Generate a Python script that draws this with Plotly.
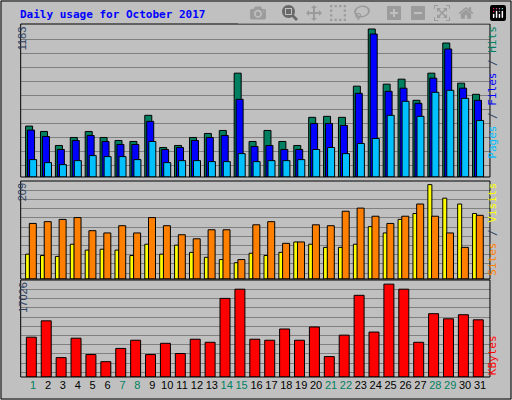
import plotly.graph_objects as go

days = list(range(1, 32))
weekend = [1, 7, 8, 14, 15, 21, 22, 28, 29]
hits = [407,364,252,316,364,316,292,284,493,236,252,316,348,372,830,284,372,284,252,477,485,477,726,1183,742,782,613,830,1071,750,661]
files = [375,324,220,292,332,284,260,260,445,220,236,292,316,332,621,244,252,220,220,428,428,412,669,1143,685,710,589,790,1023,710,613]
pages = [139,115,99,131,171,163,163,139,284,115,131,131,123,123,187,123,131,131,139,220,236,187,268,308,493,605,485,677,693,629,452]
visits = [55,52,50,77,64,66,64,52,77,55,75,59,48,43,36,57,52,59,82,77,70,70,77,116,102,132,145,209,179,166,145]
sites = [123,127,132,136,107,102,118,102,136,118,98,89,109,109,43,120,127,79,82,120,118,150,157,139,123,139,166,139,102,70,141]
kbytes = [7300,10296,3557,7114,4118,2808,5242,6739,4118,6178,4306,6926,6365,14415,16099,6926,6739,8798,6739,9173,3744,7675,14976,8237,17026,16099,6365,11606,10670,11419,10483]

line = dict(color="black", width=1)
fig = go.Figure()
def bar(y, color, off, w, ax):
    fig.add_trace(go.Bar(x=days, y=y, marker=dict(color=color, line=line), offset=off, width=w,
                         xaxis="x" if ax == "y" else "x" + ax[1:], yaxis=ax, showlegend=False))
bar(hits, "#008060", -0.5, 0.47, "y")
bar(files, "#0000ff", -0.37, 0.47, "y")
bar(pages, "#00c0ff", -0.23, 0.47, "y")
bar(visits, "#ffff00", -0.5, 0.27, "y2")
bar(sites, "#ff8000", -0.25, 0.47, "y2")
bar(kbytes, "#ff0000", -0.45, 0.67, "y3")

xr = [0.17, 31.67]
xd = [0.0404, 0.957]
ticktext = [f"<span style='color:{'#008060' if d in weekend else 'black'}'>{d}</span>" for d in days]
common_x = dict(range=xr, domain=xd, showgrid=False, zeroline=False, fixedrange=True)
gridc = "#808080"
fig.update_layout(
    width=512, height=400, margin=dict(l=0, r=0, t=0, b=0), autosize=False,
    paper_bgcolor="#c0c0c0", plot_bgcolor="#c0c0c0", barmode="overlay",
    xaxis=dict(**common_x, anchor="y", showticklabels=False),
    xaxis2=dict(**common_x, anchor="y2", showticklabels=False),
    xaxis3=dict(**common_x, anchor="y3", tickmode="array", tickvals=days, ticktext=ticktext,
                ticks="", tickfont=dict(family="Liberation Sans", size=11)),
    yaxis=dict(domain=[0.5575, 0.94], range=[0, 1223], tick0=91, dtick=112.4, showticklabels=False,
               gridcolor=gridc, zeroline=False),
    yaxis2=dict(domain=[0.3025, 0.5475], range=[0, 217], tick0=12.9, dtick=20.4, showticklabels=False,
                gridcolor=gridc, zeroline=False),
    yaxis3=dict(domain=[0.0575, 0.30], range=[0, 17784], tick0=874, dtick=1685, showticklabels=False,
                gridcolor=gridc, zeroline=False),
    font=dict(family="DejaVu Sans Mono"),
)
shapes = [dict(type="rect", xref="paper", yref="paper", x0=0.002, x1=0.998, y0=0.0025, y1=0.9975,
               line=dict(color="black", width=1))]
for d in ["y", "y2", "y3"]:
    dom = fig.layout[d.replace("y", "yaxis")].domain
    shapes.append(dict(type="rect", xref="paper", yref="paper", x0=xd[0], x1=xd[1], y0=dom[0], y1=dom[1],
                       line=dict(color="black", width=1)))
fig.update_layout(shapes=shapes)

ann = [
    dict(x=0.036, y=0.985, text="<b>Daily usage for October 2017</b>", showarrow=False, xanchor="left",
         yanchor="top", font=dict(color="#0000ff", size=11, family="DejaVu Sans Mono")),
    dict(x=0.028, y=0.94, text="1183", textangle=-90, showarrow=False, yanchor="top",
         font=dict(size=11, family="Liberation Sans")),
    dict(x=0.028, y=0.5475, text="209", textangle=-90, showarrow=False, yanchor="top",
         font=dict(size=11, family="Liberation Sans")),
    dict(x=0.028, y=0.30, text="17026", textangle=-90, showarrow=False, yanchor="top",
         font=dict(size=11, family="Liberation Sans")),
    dict(x=0.978, y=0.94, textangle=-90, showarrow=False, yanchor="top",
         text="<span style='color:#00c0ff'>Pages</span> / <span style='color:#0000ff'>Files</span> / <span style='color:#008060'>Hits</span>",
         font=dict(size=11, family="DejaVu Sans Mono")),
    dict(x=0.978, y=0.5475, textangle=-90, showarrow=False, yanchor="top",
         text="<span style='color:#ff8000'>Sites</span> / <span style='color:#ffff00'>Visits</span>",
         font=dict(size=11, family="DejaVu Sans Mono")),
    dict(x=0.978, y=0.0575, textangle=-90, showarrow=False, yanchor="bottom",
         text="<span style='color:#ff0000'>KBytes</span>", font=dict(size=11, family="DejaVu Sans Mono")),
]
for a in ann:
    a.update(xref="paper", yref="paper")
fig.update_layout(annotations=ann)
fig.write_html("out.html", post_script="document.body.style.margin='0';document.body.style.overflow='hidden';")
